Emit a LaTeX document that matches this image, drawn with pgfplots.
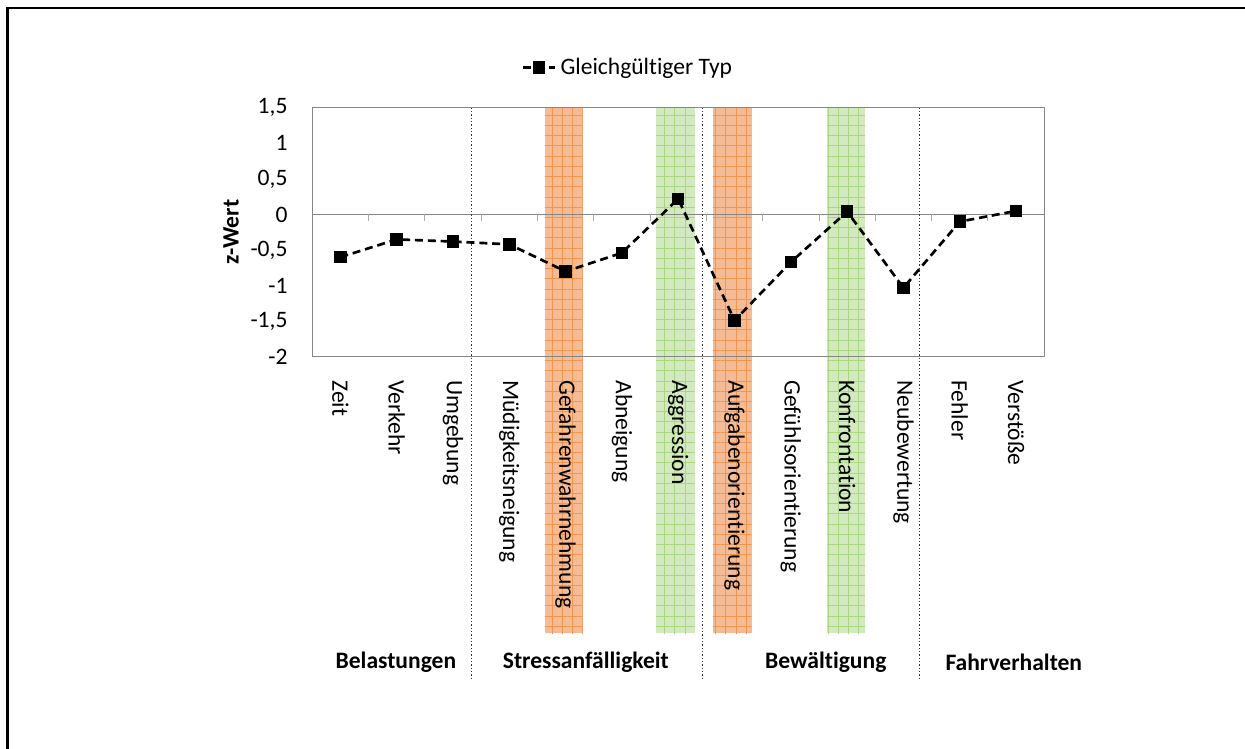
\documentclass[border=0pt]{standalone}
\usepackage{fontspec}
\setmainfont[Ligatures=NoCommon]{Carlito}
\usepackage{pgfplots}
\pgfplotsset{compat=1.18}
\usetikzlibrary{patterns.meta}
\definecolor{orfill}{HTML}{F5BB94}
\definecolor{orline}{HTML}{F0964F}
\definecolor{grfill}{HTML}{D3E9C0}
\definecolor{grline}{HTML}{AAD67E}
\definecolor{axgray}{HTML}{868686}
\begin{document}
\fontsize{10.6pt}{12.7pt}\selectfont
\begin{tikzpicture}
\useasboundingbox (0,0) rectangle (560.25pt,337.05pt);
\draw[line width=1.2pt] (3.4pt,-5pt) -- (3.4pt,333.45pt) -- (570pt,333.45pt);
\begin{axis}[
  at={(140.5pt,176.5pt)}, anchor=south west,
  scale only axis, width=329.4pt, height=112.05pt,
  xmin=-0.5, xmax=12.5, ymin=-2, ymax=1.5,
  clip=false,
  axis on top,
  axis line style={axgray, line width=0.6pt},
  xtick={0,...,12},
  xticklabels={Zeit,Verkehr,Umgebung,Müdigkeitsneigung,Gefahrenwahrnehmung,Abneigung,Aggression,Aufgabenorientierung,Gefühlsorientierung,Konfrontation,Neubewertung,Fehler,Verstöße},
  ytick={-2,-1.5,...,1.5},
  major tick length=0pt,
  /pgf/number format/assume math mode=true,
  /pgf/number format/use comma,
  /pgf/number format/fixed,
  yticklabel style={xshift=-7.4pt},
  xticklabel style={yshift=-6.9pt, rotate=-90, anchor=west},
  every axis y label/.style={at={(rel axis cs:-0.111,0.5)}, rotate=90, anchor=center},
  ylabel={\textbf{z-Wert}},
  legend style={draw=none, fill=none, at={(0.433,1.161)}, anchor=center},
  legend image code/.code={\draw[mark repeat=2,mark phase=2,#1] plot coordinates {(0cm,0cm) (0.25cm,0cm) (0.5cm,0cm)};},
]
% highlight bands
\fill[orfill] (axis cs:3.632,-5.884) rectangle (axis cs:4.302,1.5);
\fill[pattern={Hatch[angle=0,distance=4.6pt,line width=0.35pt]}, pattern color=orline] (axis cs:3.632,-5.884) rectangle (axis cs:4.302,1.5);
\fill[grfill] (axis cs:5.603,-5.884) rectangle (axis cs:6.291,1.5);
\fill[pattern={Hatch[angle=0,distance=4.6pt,line width=0.35pt]}, pattern color=grline] (axis cs:5.603,-5.884) rectangle (axis cs:6.291,1.5);
\fill[orfill] (axis cs:6.616,-5.884) rectangle (axis cs:7.303,1.5);
\fill[pattern={Hatch[angle=0,distance=4.6pt,line width=0.35pt]}, pattern color=orline] (axis cs:6.616,-5.884) rectangle (axis cs:7.303,1.5);
\fill[grfill] (axis cs:8.646,-5.884) rectangle (axis cs:9.315,1.5);
\fill[pattern={Hatch[angle=0,distance=4.6pt,line width=0.35pt]}, pattern color=grline] (axis cs:8.646,-5.884) rectangle (axis cs:9.315,1.5);
% zero line and ticks
\draw[axgray, line width=0.6pt] (axis cs:-0.5,0) -- (axis cs:12.5,0);
\draw[axgray!70] (axis cs:0.5,0) -- ([yshift=-3pt]axis cs:0.5,0);
\draw[axgray!70] (axis cs:1.5,0) -- ([yshift=-3pt]axis cs:1.5,0);
\draw[axgray!70] (axis cs:2.5,0) -- ([yshift=-3pt]axis cs:2.5,0);
\draw[axgray!70] (axis cs:3.5,0) -- ([yshift=-3pt]axis cs:3.5,0);
\draw[axgray!70] (axis cs:4.5,0) -- ([yshift=-3pt]axis cs:4.5,0);
\draw[axgray!70] (axis cs:5.5,0) -- ([yshift=-3pt]axis cs:5.5,0);
\draw[axgray!70] (axis cs:6.5,0) -- ([yshift=-3pt]axis cs:6.5,0);
\draw[axgray!70] (axis cs:7.5,0) -- ([yshift=-3pt]axis cs:7.5,0);
\draw[axgray!70] (axis cs:8.5,0) -- ([yshift=-3pt]axis cs:8.5,0);
\draw[axgray!70] (axis cs:9.5,0) -- ([yshift=-3pt]axis cs:9.5,0);
\draw[axgray!70] (axis cs:10.5,0) -- ([yshift=-3pt]axis cs:10.5,0);
\draw[axgray!70] (axis cs:11.5,0) -- ([yshift=-3pt]axis cs:11.5,0);
% group separators
\draw[black!80, densely dotted, line width=0.5pt] (axis cs:2.331,1.5) -- (axis cs:2.331,-6.517);
\draw[black!80, densely dotted, line width=0.5pt] (axis cs:6.433,1.5) -- (axis cs:6.433,-6.517);
\draw[black!80, densely dotted, line width=0.5pt] (axis cs:10.283,1.5) -- (axis cs:10.283,-6.517);
% group labels
\node at (axis cs:0.986,-6.292) {\textbf{Belastungen}};
\node at (axis cs:4.36,-6.292) {\textbf{Stressanfälligkeit}};
\node at (axis cs:8.62,-6.292) {\textbf{Bewältigung}};
\node at (axis cs:11.96,-6.292) {\textbf{Fahrverhalten}};
\addplot[black, line width=1.2pt, dash pattern=on 3.6pt off 2.2pt, mark=square*, mark size=2.2pt, mark options={solid, fill=black}]
coordinates {(0,-0.60) (1,-0.35) (2,-0.38) (3,-0.42) (4,-0.80) (5,-0.54) (6,0.22) (7,-1.49) (8,-0.67) (9,0.04) (10,-1.03) (11,-0.10) (12,0.05)};
\addlegendentry{Gleichgültiger Typ}
\end{axis}
\end{tikzpicture}
\end{document}
